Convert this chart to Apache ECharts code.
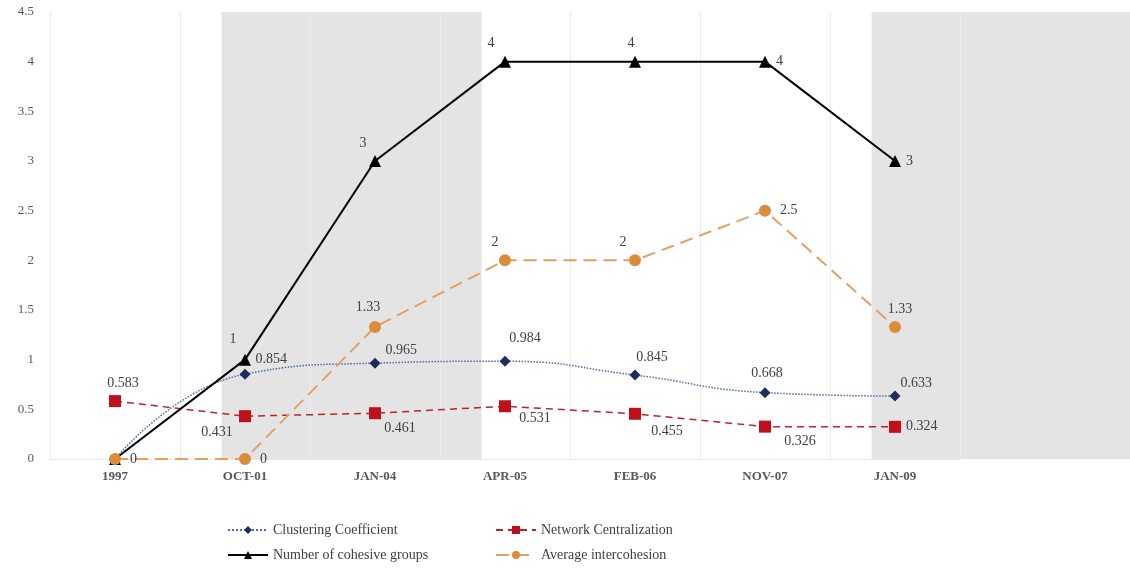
<!DOCTYPE html>
<html>
<head>
<meta charset="utf-8">
<script src="https://cdn.jsdelivr.net/npm/echarts@6/dist/echarts.min.js"></script>
<style>html,body{margin:0;padding:0;background:#fff}#c{width:1130px;height:587px}</style>
</head>
<body>
<div id="c"></div>
<script>
var categories = ['1997', 'OCT-01', 'JAN-04', 'APR-05', 'FEB-06', 'NOV-07', 'JAN-09'];
var clustering = [0, 0.854, 0.965, 0.984, 0.845, 0.668, 0.633];
var centralization = [0.583, 0.431, 0.461, 0.531, 0.455, 0.326, 0.324];
var cohesiveGroups = [0, 1, 3, 4, 4, 4, 3];
var intercohesion = [0, 0, 1.33, 2, 2, 2.5, 1.33];
var yTicks = [0, 0.5, 1, 1.5, 2, 2.5, 3, 3.5, 4, 4.5];
// shaded bands, in category-index units
var shadeStart = [0.82, 5.82];
var shadeEnd = [2.82, 7.81];

// label placement (style, not data)
var clLab = [null, ['right', [0, -15]], ['right', [0, -13]], ['top', [20, -5]], ['top', [17, 0]], ['top', [2, -2]], ['right', [-5, -13]]];
var ncLab = [['top', [8, 0]], ['bottom', [-28, -2]], ['bottom', [25, -3]], ['bottom', [30, -6]], ['bottom', [32, 0]], ['bottom', [35, -3]], ['right', [0, 0]]];
var cgLab = [null, ['top', [-12, -2]], ['top', [-12, 0]], ['top', [-14, 0]], ['top', [-4, 0]], ['right', [0, 0]], ['right', [0, 0]]];
var aiLab = [['right', [4, 0]], ['right', [4, 0]], ['top', [-7, -2]], ['top', [-10, 0]], ['top', [-12, 0]], ['right', [4, 0]], ['top', [5, 0]]];

var FONT = "'Liberation Serif', 'DejaVu Serif', serif";
function build(vals, labs) {
  return vals.map(function (v, i) {
    var l = labs[i];
    if (!l) return { value: v, label: { show: false } };
    return { value: v, label: { show: true, position: l[0], offset: l[1] } };
  });
}
var labelStyle = { color: '#404040', fontFamily: FONT, fontSize: 14 };

var chart = echarts.init(document.getElementById('c'));
chart.setOption({
  animation: false,
  backgroundColor: '#ffffff',
  grid: [
    { left: 50, right: 170, top: 12, bottom: 128 },
    { left: 50, right: 0, top: 12, bottom: 128 }
  ],
  xAxis: [
    {
      type: 'category', gridIndex: 0, data: categories, boundaryGap: true, z: 3,
      axisLine: { show: true, lineStyle: { color: '#E6E6E6' } },
      axisTick: { show: false },
      splitLine: { show: true, lineStyle: { color: '#ECECEC', width: 1 } },
      axisLabel: { margin: 11, color: '#595959', fontFamily: FONT, fontSize: 13, fontWeight: 'bold' }
    },
    {
      type: 'value', gridIndex: 1, min: -0.5, max: 7.8077, show: false
    }
  ],
  yAxis: [
    {
      type: 'value', gridIndex: 0, min: 0, max: 4.5, interval: 0.5,
      axisLine: { show: false }, axisTick: { show: false },
      splitLine: { show: false },
      axisLabel: {
        margin: 16, color: '#595959', fontFamily: FONT, fontSize: 13,
        formatter: function (v) { return yTicks.indexOf(v) >= 0 ? String(v) : ''; }
      }
    },
    { type: 'value', gridIndex: 1, min: 0, max: 4.5, show: false }
  ],
  legend: [
    {
      orient: 'vertical', left: 222, top: 518, itemWidth: 40, itemHeight: 10, itemGap: 11,
      textStyle: { color: '#404040', fontFamily: FONT, fontSize: 14 },
      data: ['Clustering Coefficient', 'Number of cohesive groups']
    },
    {
      orient: 'vertical', left: 490, top: 518, itemWidth: 40, itemHeight: 10, itemGap: 11,
      textStyle: { color: '#404040', fontFamily: FONT, fontSize: 14 },
      data: ['Network Centralization', 'Average intercohesion']
    }
  ],
  series: [
    {
      name: 'shade', type: 'line', xAxisIndex: 1, yAxisIndex: 1, data: [], z: 0, silent: true,
      markArea: {
        silent: true,
        itemStyle: { color: '#E4E4E4' },
        data: shadeStart.map(function (s, i) { return [{ xAxis: s, yAxis: 0 }, { xAxis: shadeEnd[i], yAxis: 4.52 }]; })
      }
    },
    {
      name: 'Clustering Coefficient', type: 'line', smooth: true, z: 5,
      data: build(clustering, clLab),
      symbol: 'diamond', symbolSize: 11,
      lineStyle: { color: '#4A6AA8', type: 'dotted', width: 1.5 },
      itemStyle: { color: '#1F2D5A' },
      label: labelStyle
    },
    {
      name: 'Network Centralization', type: 'line', z: 4,
      data: build(centralization, ncLab),
      symbol: 'rect', symbolSize: 12,
      lineStyle: { color: '#C0202A', type: [7, 5], width: 1.5 },
      itemStyle: { color: '#C0101C' },
      label: labelStyle
    },
    {
      name: 'Number of cohesive groups', type: 'line', z: 6,
      data: build(cohesiveGroups, cgLab),
      symbol: 'triangle', symbolSize: 12,
      lineStyle: { color: '#000000', type: 'solid', width: 2 },
      itemStyle: { color: '#000000' },
      label: labelStyle
    },
    {
      name: 'Average intercohesion', type: 'line', z: 7,
      data: build(intercohesion, aiLab),
      symbol: 'circle', symbolSize: 12,
      lineStyle: { color: '#E3A062', type: [13, 7], width: 2 },
      itemStyle: { color: '#DB8C3A' },
      label: labelStyle
    }
  ]
});
</script>
</body>
</html>
